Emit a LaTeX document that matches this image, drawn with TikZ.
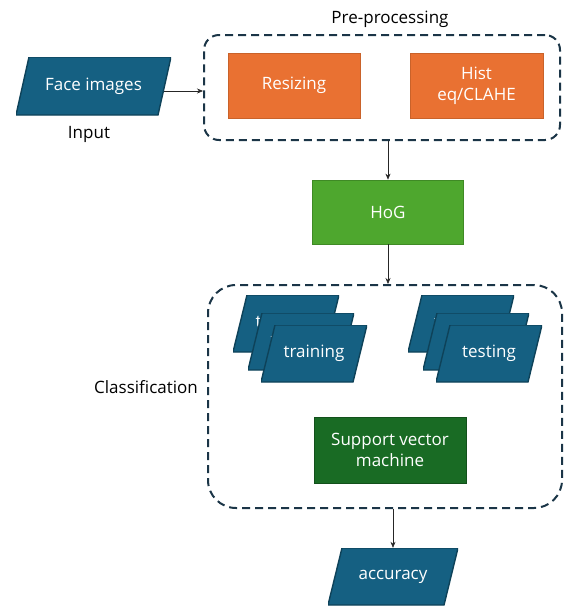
\documentclass[tikz,border=0pt]{standalone}
\usepackage{fontspec}
\setmainfont{Open Sans}
\usetikzlibrary{arrows.meta}

\definecolor{dataBlue}{HTML}{156082}
\definecolor{dataEdge}{HTML}{0E4259}
\definecolor{procOrange}{HTML}{E97132}
\definecolor{procEdge}{HTML}{C9622A}
\definecolor{hogGreen}{HTML}{4EA72E}
\definecolor{hogEdge}{HTML}{3F8A25}
\definecolor{svmGreen}{HTML}{196B24}
\definecolor{svmEdge}{HTML}{12501B}
\definecolor{groupLine}{HTML}{1B3547}

\tikzset{
  boxfont/.style={font=\fontsize{17}{21}\selectfont},
  % parallelogram data symbol, leaning right by \pgfkeysvalueof{/tikz/slant}
  slant/.initial=14pt,
  data/.style={rectangle, inner sep=0pt, minimum height=57pt, text=white, boxfont,
    path picture={
      \filldraw[fill=dataBlue, draw=dataEdge, line width=1.4pt]
        ([xshift=\pgfkeysvalueof{/tikz/slant}]path picture bounding box.north west)
        -- (path picture bounding box.north east)
        -- ([xshift=-\pgfkeysvalueof{/tikz/slant}]path picture bounding box.south east)
        -- (path picture bounding box.south west) -- cycle;}},
  proc/.style={rectangle, fill=procOrange, draw=procEdge, line width=0.7pt,
    text=white, boxfont, align=center, inner sep=0pt,
    minimum width=132pt, minimum height=65pt},
  group/.style={rectangle, draw=groupLine, line width=2pt,
    dash pattern=on 8pt off 5pt, inner sep=0pt},
  caption/.style={text=black, boxfont, inner sep=0pt},
  link/.style={-{Stealth[length=6pt,width=5pt]}, line width=0.6pt, black!85}
}

\begin{document}
\begin{tikzpicture}[x=1pt,y=-1pt]
\useasboundingbox (0,0) rectangle (564,606);

% input
\node[data, slant=13pt, minimum width=155pt, minimum height=58pt] (face) at (93.5,86) {Face images};
\node[caption] (inlbl) at (89,134) {Input};

% pre-processing group
\node[group, rounded corners=15pt, minimum width=356pt, minimum height=105pt] (pre) at (382,87.5) {};
\node[caption] (prelbl) at (390,19) {Pre-processing};
\node[proc] (resize) at (294,85.5) {Resizing};
\node[proc, minimum width=133pt] (hist) at (476.5,85.5) {Hist\\eq/CLAHE};

% feature extraction
\node[proc, fill=hogGreen, draw=hogEdge, minimum width=151pt, minimum height=64pt] (hog) at (388,212) {HoG};

% classification group
\node[group, rounded corners=28pt, minimum width=354pt, minimum height=223pt] (cls) at (385,396.5) {};
\node[caption] (clslbl) at (146,387) {Classification};

% stacked training sets
\node[data, minimum width=106pt] (trainA) at (286,323.5) {training};
\node[data, minimum width=106pt] (trainB) at (301,341.5) {training};
\node[data, minimum width=106pt] (trainC) at (314,353.5) {training};

% stacked testing sets
\node[data, minimum width=106pt] (testA) at (461,323.5) {testing};
\node[data, minimum width=106pt] (testB) at (476,341.5) {testing};
\node[data, minimum width=106pt] (testC) at (489,353.5) {testing};

\node[proc, fill=svmGreen, draw=svmEdge, minimum width=152pt, minimum height=66pt] (svm) at (390,450) {Support vector\\machine};

% output
\node[data, minimum width=130pt] (acc) at (393,576.5) {accuracy};

% connectors
\draw[link] ([xshift=-7pt,yshift=-5pt]face.east) -- ([yshift=-5pt]face.east -| pre.west);
\draw[link] (hog.north |- pre.south) -- (hog.north);
\draw[link] (hog.south) -- (hog.south |- cls.north);
\draw[link] (acc.north |- cls.south) -- (acc.north);
\end{tikzpicture}
\end{document}
